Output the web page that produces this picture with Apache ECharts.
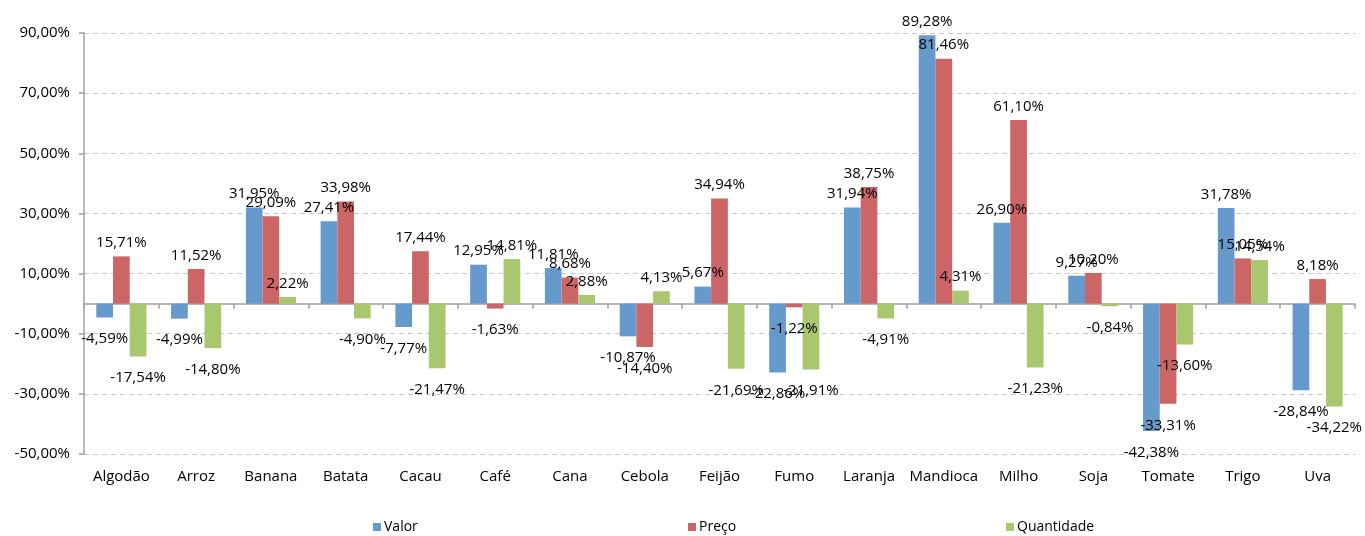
<!DOCTYPE html>
<html>
<head>
<meta charset="utf-8">
<script src="https://cdn.jsdelivr.net/npm/echarts@6/dist/echarts.min.js"></script>
<style>html,body{margin:0;padding:0;background:#fff}#c{width:1365px;height:536px}</style>
</head>
<body>
<div id="c"></div>
<script>
const categories = ['Algodão','Arroz','Banana','Batata','Cacau','Café','Cana','Cebola','Feijão','Fumo','Laranja','Mandioca','Milho','Soja','Tomate','Trigo','Uva'];
const valor = [-4.59,-4.99,31.95,27.41,-7.77,12.95,11.81,-10.87,5.67,-22.86,31.94,89.28,26.90,9.27,-42.38,31.78,-28.84];
const preco = [15.71,11.52,29.09,33.98,17.44,-1.63,8.68,-14.40,34.94,-1.22,38.75,81.46,61.10,10.20,-33.31,15.05,8.18];
const quantidade = [-17.54,-14.80,2.22,-4.90,-21.47,14.81,2.88,4.13,-21.69,-21.91,-4.91,4.31,-21.23,-0.84,-13.60,14.54,-34.22];
const seriesNames = ['Valor','Preço','Quantidade'];
const colors = ['#6699CC','#CC6666','#A9C76E'];

const FONT = '"Open Sans", "Liberation Sans", sans-serif';
const fmt = v => v.toFixed(2).replace('.', ',') + '%';

function mkData(arr){
  return arr.map(v => ({
    value: v,
    label: { position: v >= 0 ? 'top' : 'bottom', distance: v >= 0 ? 6 : 14 }
  }));
}

const chart = echarts.init(document.getElementById('c'));
chart.setOption({
  animation: false,
  color: colors,
  textStyle: { fontFamily: FONT },
  grid: { left: 84, right: 10, top: 33, bottom: 82, containLabel: false },
  legend: [0,1,2].map((i) => ({
    data: [seriesNames[i]],
    left: [368, 683, 1001][i],
    top: 515,
    icon: 'rect',
    itemWidth: 8,
    itemHeight: 8,
    itemGap: 4,
    textStyle: { fontSize: 14, color: '#000', fontFamily: FONT, padding: [0,0,0,-2] }
  })),
  xAxis: [
    {
      type: 'category',
      data: categories,
      position: 'bottom',
      axisLine: { show: false, onZero: false },
      axisTick: { show: false },
      axisLabel: { interval: 0, fontSize: 15, color: '#000', margin: 15, fontFamily: FONT }
    },
    {
      type: 'category',
      data: categories,
      position: 'bottom',
      axisLine: { show: true, onZero: true, lineStyle: { color: '#A0A0A0', width: 1.5 } },
      axisTick: { show: true, interval: 0, alignWithLabel: false, length: 5, inside: false, lineStyle: { color: '#A0A0A0', width: 1.5 } },
      axisLabel: { show: false }
    }
  ],
  yAxis: {
    type: 'value',
    min: -50,
    max: 90,
    interval: 20,
    axisLine: { show: true, lineStyle: { color: '#A0A0A0', width: 1.5 } },
    axisTick: { show: true, length: 5, lineStyle: { color: '#A0A0A0', width: 1.5 } },
    axisLabel: { fontSize: 15, color: '#000', margin: 14, fontFamily: FONT, formatter: v => v.toFixed(2).replace('.', ',') + '%' },
    splitLine: { show: true, lineStyle: { color: '#C8C8C8', type: [5, 4], width: 1 } }
  },
  series: [valor, preco, quantidade].map((arr, i) => ({
    name: seriesNames[i],
    type: 'bar',
    xAxisIndex: 0,
    barGap: '0%',
    barCategoryGap: '33%',
    data: mkData(arr),
    itemStyle: { color: colors[i] },
    labelLayout: { moveOverlap: 'shiftY' },
    label: { show: true, fontSize: 15, color: '#000', fontFamily: FONT, formatter: p => fmt(p.value) }
  }))
});
</script>
</body>
</html>
